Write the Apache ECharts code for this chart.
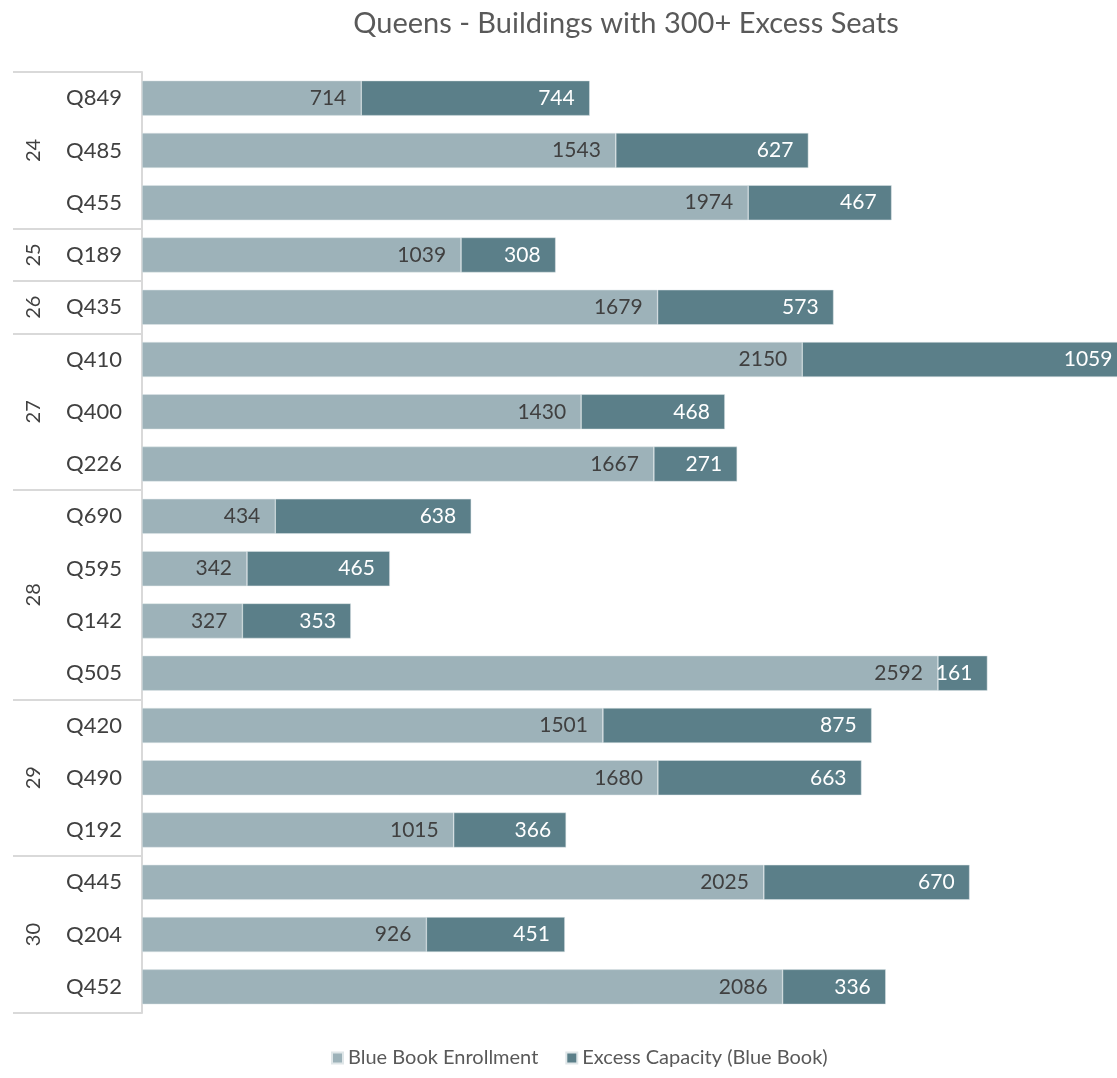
<!DOCTYPE html>
<html>
<head>
<meta charset="utf-8">
<script src="https://cdn.jsdelivr.net/npm/echarts@6/dist/echarts.min.js"></script>
<style>
  html, body { margin: 0; padding: 0; background: #fff; }
  #echart { width: 1117px; height: 1078px; }
</style>
</head>
<body>
<div id="echart"></div>
<script>
var buildings = ['Q849', 'Q485', 'Q455', 'Q189', 'Q435', 'Q410', 'Q400', 'Q226', 'Q690',
                 'Q595', 'Q142', 'Q505', 'Q420', 'Q490', 'Q192', 'Q445', 'Q204', 'Q452'];
var districts = ['24', '25', '26', '27', '28', '29', '30'];
var districtSizes = [3, 1, 1, 3, 4, 3, 3];
var enrollment = [714, 1543, 1974, 1039, 1679, 2150, 1430, 1667, 434,
                  342, 327, 2592, 1501, 1680, 1015, 2025, 926, 2086];
var excess = [744, 627, 467, 308, 573, 1059, 468, 271, 638,
              465, 353, 161, 875, 663, 366, 670, 451, 336];

// where each district starts, and its middle (in row units)
var groupStart = {};
var groupMid = {};
var pos = 0;
districts.forEach(function (d, i) {
    groupStart[pos] = true;
    groupMid[pos + districtSizes[i] / 2] = d;
    pos += districtSizes[i];
});

var myChart = echarts.init(document.getElementById('echart'));

var font = 'Lato, "Open Sans", sans-serif';

option = {
    title: {
        text: 'Queens - Buildings with 300+ Excess Seats',
        left: 621,
        top: 4,
        textAlign: 'center',
        textStyle: { fontFamily: font, fontSize: 29, fontWeight: 'normal', color: '#595959' }
    },
    legend: {
        bottom: 5,
        left: 326,
        itemWidth: 11,
        itemHeight: 11,
        itemGap: 27,
        icon: 'rect',
        textStyle: { fontFamily: font, fontSize: 20, color: '#595959' },
        data: ['Blue Book Enrollment', 'Excess Capacity (Blue Book)']
    },
    grid: { left: 142, right: 0, top: 72, bottom: 65 },
    xAxis: {
        type: 'value',
        min: 0,
        max: 3175,
        show: false
    },
    yAxis: [
        {
            type: 'category',
            inverse: true,
            data: buildings,
            axisLine: { show: true, lineStyle: { color: '#d9d9d9', width: 2 } },
            axisTick: {
                show: true,
                length: 129,
                interval: function (index) { return !!groupStart[index]; },
                lineStyle: { color: '#d9d9d9', width: 2 }
            },
            axisLabel: { margin: 20, fontFamily: font, fontSize: 22, color: '#404040' }
        },
        {
            type: 'value',
            inverse: true,
            min: 0,
            max: buildings.length,
            interval: 0.5,
            position: 'left',
            axisLine: { show: false },
            axisTick: { show: false },
            splitLine: { show: false },
            axisLabel: {
                margin: 98,
                rotate: 90,
                fontFamily: font,
                fontSize: 20,
                color: '#404040',
                formatter: function (v) { return groupMid[v] || ''; }
            }
        }
    ],
    series: [
        {
            name: 'Blue Book Enrollment',
            type: 'bar',
            stack: 'total',
            barWidth: 35,
            clip: false,
            data: enrollment,
            itemStyle: { color: '#9db2b9', borderColor: '#dfe6e8', borderWidth: 0.5 },
            label: {
                show: true,
                position: 'insideRight',
                distance: 15,
                fontFamily: font,
                fontSize: 21,
                color: '#404040'
            }
        },
        {
            name: 'Excess Capacity (Blue Book)',
            type: 'bar',
            stack: 'total',
            barWidth: 35,
            clip: false,
            data: excess,
            itemStyle: { color: '#5b7f89', borderColor: '#dfe6e8', borderWidth: 0.5 },
            label: {
                show: true,
                position: 'insideRight',
                distance: 15,
                fontFamily: font,
                fontSize: 21,
                color: '#ffffff'
            }
        }
    ]
};

myChart.setOption(option);
</script>
</body>
</html>
